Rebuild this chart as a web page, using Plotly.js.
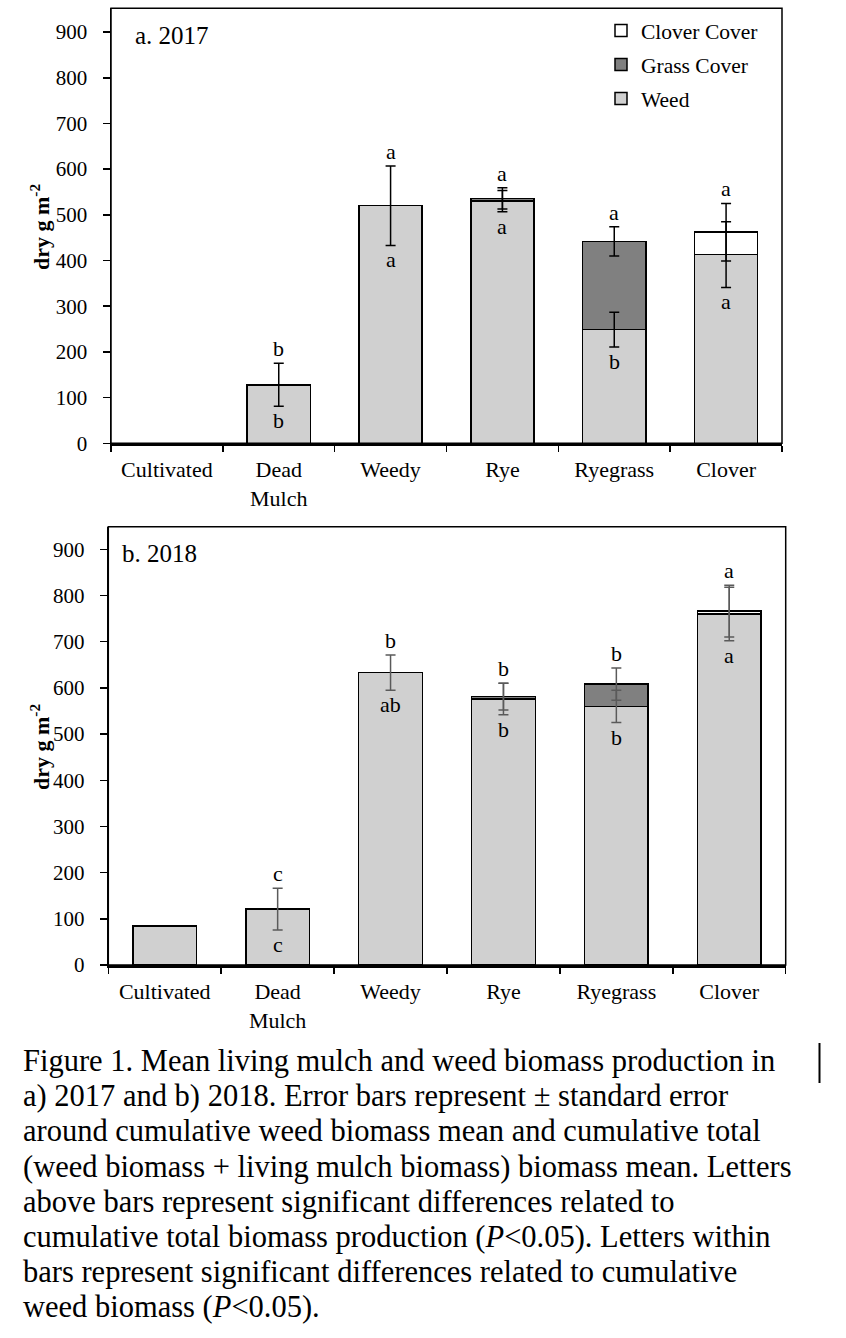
<!DOCTYPE html>
<html>
<head>
<meta charset="utf-8">
<script src="https://cdn.plot.ly/plotly-3.0.1.min.js"></script>
<style>
  html, body { margin: 0; padding: 0; background: #fff; }
  #chart { width: 846px; height: 1338px; }
</style>
</head>
<body>
<div id="chart"></div>
<script>
// ---------- DATA ----------
const categories = ['Cultivated', 'Dead<br>Mulch', 'Weedy', 'Rye', 'Ryegrass', 'Clover'];

// 2017 (panel a)
const weed2017        = [0, 128, 520, 530, 249, 413];
const grass2017       = [0, 0, 0, 6, 193, 0];
const clover2017      = [0, 0, 0, 0, 0, 49];
const weedErr2017     = [0, 47, 87, 23, 38, 72];
const totalErr2017    = [0, 0, 0, 23, 32, 63];
const lettersTotal2017 = ['', 'b', 'a', 'a', 'a', 'a'];
const lettersWeed2017  = ['', 'b', 'a', 'a', 'b', 'a'];

// 2018 (panel b)
const weed2018        = [84, 121, 633, 576, 560, 760];
const grass2018       = [0, 0, 0, 5, 48, 0];
const clover2018      = [0, 0, 0, 0, 0, 6];
const weedErr2018     = [0, 45, 38, 34, 35, 58];
const totalErr2018    = [0, 0, 0, 29, 35, 56];
const lettersTotal2018 = ['', 'c', 'b', 'b', 'b', 'a'];
const lettersWeed2018  = ['', 'c', 'ab', 'b', 'b', 'a'];

const seriesNames = ['Weed', 'Grass Cover', 'Clover Cover'];
const legendRanks = [3, 2, 1];
const panelLabels = ['a. 2017', 'b. 2018'];
const yTitle = 'dry g m<sup>-2</sup>';

const captionLines = [
  'Figure 1. Mean living mulch and weed biomass production in',
  'a) 2017 and b) 2018. Error bars represent \u00b1 standard error',
  'around cumulative weed biomass mean and cumulative total',
  '(weed biomass + living mulch biomass) biomass mean. Letters',
  'above bars represent significant differences related to',
  'cumulative total biomass production (<i>P</i>&lt;0.05). Letters within',
  'bars represent significant differences related to cumulative',
  'weed biomass (<i>P</i>&lt;0.05).'
];

// ---------- STYLE ----------
const FONT = 'Liberation Serif, Times New Roman, serif';
const W = 846, H = 1338;
const colors = ['#d0d0d0', '#808080', '#ffffff'];
const px = v => v / W;
const py = v => 1 - v / H;

const panels = [
  { weed: weed2017, grass: grass2017, clover: clover2017, weedErr: weedErr2017, totalErr: totalErr2017,
    lt: lettersTotal2017, lw: lettersWeed2017, xa: 'x', ya: 'y', errColor: '#000000',
    xdom: [px(111), px(782)], ydom: [py(443.3), py(8.3)], range: [0, 952],
    labelX: 133, labelY: 35, titleY: 227, showlegend: true },
  { weed: weed2018, grass: grass2018, clover: clover2018, weedErr: weedErr2018, totalErr: totalErr2018,
    lt: lettersTotal2018, lw: lettersWeed2018, xa: 'x2', ya: 'y2', errColor: '#5a5a5a',
    xdom: [px(108.3), px(785.7)], ydom: [py(965), py(526.7)], range: [0, 949],
    labelX: 120, labelY: 553, titleY: 747, showlegend: false }
];

const traces = [];
const annotations = [];
const shapes = [];
const layout = {
  width: W, height: H,
  margin: { l: 0, r: 0, t: 0, b: 0 },
  paper_bgcolor: '#fff', plot_bgcolor: '#fff',
  barmode: 'stack', bargap: 0.435,
  font: { family: FONT, color: '#000', size: 20 },
  showlegend: true,
  legend: {
    x: px(601), y: py(10), xanchor: 'left', yanchor: 'top',
    traceorder: 'grouped', tracegroupgap: 3,
    font: { family: FONT, size: 21.5, color: '#000' },
    bgcolor: 'rgba(0,0,0,0)', borderwidth: 0
  }
};

panels.forEach((p, k) => {
  const stacks = [p.weed, p.grass, p.clover];
  stacks.forEach((vals, s) => {
    traces.push({
      type: 'bar', x: categories, y: vals.map(v => v || null),
      name: seriesNames[s], legendgroup: seriesNames[s], legendrank: legendRanks[s],
      showlegend: p.showlegend,
      xaxis: p.xa, yaxis: p.ya,
      marker: { color: colors[s], line: { color: '#000', width: 1.5 } },
      hoverinfo: 'skip'
    });
  });
  const total = p.weed.map((w, i) => w + p.grass[i] + p.clover[i]);
  // weed error bars
  traces.push({
    type: 'scatter', mode: 'markers', x: categories,
    y: p.weed.map((w, i) => p.weedErr[i] ? w : null),
    xaxis: p.xa, yaxis: p.ya, showlegend: false, hoverinfo: 'skip',
    marker: { size: 1, opacity: 0 },
    error_y: { type: 'data', array: p.weedErr, visible: true, color: p.errColor, thickness: 1.5, width: 5 }
  });
  // total error bars
  traces.push({
    type: 'scatter', mode: 'markers', x: categories,
    y: total.map((t, i) => p.totalErr[i] ? t : null),
    xaxis: p.xa, yaxis: p.ya, showlegend: false, hoverinfo: 'skip',
    marker: { size: 1, opacity: 0 },
    error_y: { type: 'data', array: p.totalErr, visible: true, color: p.errColor, thickness: 1.5, width: 5 }
  });
  // letters
  categories.forEach((c, i) => {
    if (p.lt[i]) {
      const top = p.totalErr[i] ? total[i] + p.totalErr[i] : p.weed[i] + p.weedErr[i];
      annotations.push({ xref: p.xa, yref: p.ya, x: c, y: top, text: p.lt[i], showarrow: false,
        xanchor: 'center', yanchor: 'bottom', yshift: 0, font: { family: FONT, size: 22 } });
    }
    if (p.lw[i]) {
      const bot = p.weed[i] - p.weedErr[i];
      annotations.push({ xref: p.xa, yref: p.ya, x: c, y: bot, text: p.lw[i], showarrow: false,
        xanchor: 'center', yanchor: 'top', yshift: 0, font: { family: FONT, size: 22 } });
    }
  });
  // panel label
  annotations.push({ xref: 'paper', yref: 'paper', x: px(p.labelX), y: py(p.labelY), text: panelLabels[k],
    showarrow: false, xanchor: 'left', yanchor: 'middle', font: { family: FONT, size: 25 } });
  // y title
  annotations.push({ xref: 'paper', yref: 'paper', x: px(40), y: py(p.titleY), text: '<b>' + yTitle + '</b>',
    showarrow: false, xanchor: 'center', yanchor: 'middle', textangle: -90, font: { family: FONT, size: 22 } });
  // frame
  shapes.push({ type: 'rect', xref: p.xa + ' domain', yref: p.ya + ' domain', x0: 0, x1: 1, y0: 0, y1: 1,
    line: { color: '#000', width: 1.5 }, layer: 'above' });

  const xKey = p.xa === 'x' ? 'xaxis' : 'xaxis2';
  const yKey = p.ya === 'y' ? 'yaxis' : 'yaxis2';
  layout[xKey] = {
    domain: p.xdom, anchor: p.ya, type: 'category', tickson: 'boundaries',
    ticks: 'outside', ticklen: 6, tickwidth: 1.5, tickcolor: '#000',
    showline: true, linewidth: 2.5, linecolor: '#000', showgrid: false, zeroline: false,
    tickfont: { family: FONT, size: 22, color: '#000' }, ticklabelstandoff: 5, fixedrange: true
  };
  layout[yKey] = {
    domain: p.ydom, anchor: p.xa, range: p.range, dtick: 100, tick0: 0,
    ticks: 'outside', ticklen: 7, tickwidth: 1.5, tickcolor: '#000',
    showline: true, linewidth: 1.5, linecolor: '#000', showgrid: false, zeroline: false,
    tickfont: { family: FONT, size: 21, color: '#000' }, ticklabelstandoff: 11, fixedrange: true
  };
});

// caption
const capTop = 1061, capStep = 35.2;
captionLines.forEach((t, i) => {
  annotations.push({ xref: 'paper', yref: 'paper', x: px(21), y: py(capTop + i * capStep), text: t,
    showarrow: false, xanchor: 'left', yanchor: 'middle', align: 'left', font: { family: FONT, size: 30.5 } });
});
// vertical mark beside caption
shapes.push({ type: 'line', xref: 'paper', yref: 'paper', x0: px(819.5), x1: px(819.5), y0: py(1043), y1: py(1083),
  line: { color: '#000', width: 2 } });

layout.annotations = annotations;
layout.shapes = shapes;

Plotly.newPlot('chart', traces, layout, { displayModeBar: false, staticPlot: true });
</script>
</body>
</html>
